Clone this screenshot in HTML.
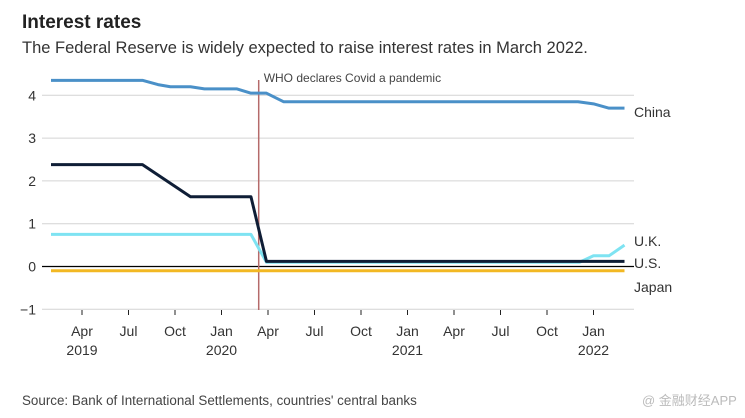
<!DOCTYPE html>
<html><head><meta charset="utf-8"><style>
body{margin:0;background:#fff;font-family:"Liberation Sans","Noto Sans CJK SC",sans-serif;}
#wrap{position:relative;width:745px;height:418px;overflow:hidden;}
</style></head><body>
<div id="wrap">
<svg id="chart" width="745" height="418" font-family="Liberation Sans, sans-serif">
<text x="22" y="28" font-size="19" font-weight="bold" fill="#222">Interest rates</text>
<text x="22" y="53" font-size="16.5" fill="#333">The Federal Reserve is widely expected to raise interest rates in March 2022.</text>
<text x="22" y="405" font-size="13.4" fill="#444">Source: Bank of International Settlements, countries' central banks</text>
<text x="642" y="405" font-size="13" fill="#bbb">@ 金融财经APP</text>
<g id="grid"></g><g id="marks"></g><g id="labels"></g>
</svg>
</div>
<script>
const yTicks=[-1,0,1,2,3,4];
const xTickMonths=[3,6,9,12,15,18,21,24,27,30,33,36];
const xTickLabels=["Apr","Jul","Oct","Jan","Apr","Jul","Oct","Jan","Apr","Jul","Oct","Jan"];
const yearLabels=["2019","2020","2021","2022"];
const yearPos=[3,12,24,36];
const chinaM=[1,6.9,7.9,8.7,10,10.9,13,13.9,14.9,16,35,36,37,38];
const chinaV=[4.35,4.35,4.25,4.2,4.2,4.15,4.15,4.05,4.05,3.85,3.85,3.8,3.7,3.7];
const usM=[1,6.9,10,13.9,14.9,38];
const usV=[2.38,2.38,1.63,1.63,0.12,0.12];
const ukM=[1,13.9,14.9,35.1,36,37,38];
const ukV=[0.75,0.75,0.1,0.1,0.25,0.25,0.5];
const jpM=[1,38];
const jpV=[-0.1,-0.1];
const eventMonth=14.4;
const NS="http://www.w3.org/2000/svg";
const x=m=>35.5+15.5*m;
const y=v=>266.5-42.8*v;
function mk(tag,attrs,parent){const e=document.createElementNS(NS,tag);for(const k in attrs)e.setAttribute(k,attrs[k]);document.getElementById(parent).appendChild(e);return e;}
yTicks.forEach(t=>{
 const l=mk('line',{x1:42,x2:634,y1:y(t),y2:y(t),stroke:t===0?'#000':'#d4d4d4','stroke-width':t===0?1.2:1},'grid');
 
 
 const tx=mk('text',{x:36,y:y(t)+5,'text-anchor':'end','font-size':14,fill:'#333'},'labels');
 tx.textContent=t<0?'\u2212'+Math.abs(t):t;
 
 
});
xTickMonths.forEach((m,i)=>{
 const l=mk('line',{x1:x(m),x2:x(m),y1:310,y2:315,stroke:'#222','stroke-width':1},'grid');
 
 
 const t=mk('text',{x:x(m),y:336,'text-anchor':'middle','font-size':14,fill:'#333'},'labels');
 t.textContent=xTickLabels[i];
 
 
});
yearLabels.forEach((yl,i)=>{
 const t=mk('text',{x:x(yearPos[i]),y:355,'text-anchor':'middle','font-size':14,fill:'#333'},'labels');
 t.textContent=yl;
 
 
});
const ev=mk('line',{x1:x(eventMonth),x2:x(eventMonth),y1:80,y2:310,stroke:'#b56a6a','stroke-width':1.5},'marks');


const evt=mk('text',{x:x(eventMonth)+5,y:82,'font-size':12,fill:'#444'},'labels');
evt.textContent='WHO declares Covid a pandemic';


function series(M,V,color,name,label,ly){
 const p=mk('polyline',{points:M.map((m,i)=>x(m)+','+y(V[i])).join(' '),fill:'none',stroke:color,'stroke-width':3,'stroke-linejoin':'round'},'marks');
 
 
 const t=mk('text',{x:634,y:ly,'font-size':14,fill:'#333'},'labels');
 t.textContent=label;
 
 
}
series(jpM,jpV,'#f2b823','japan','Japan',292);
series(ukM,ukV,'#7ee3f2','uk','U.K.',246);
series(usM,usV,'#0f1e36','us','U.S.',268);
series(chinaM,chinaV,'#4a90c8','china','China',117);
</script>
</body></html>
